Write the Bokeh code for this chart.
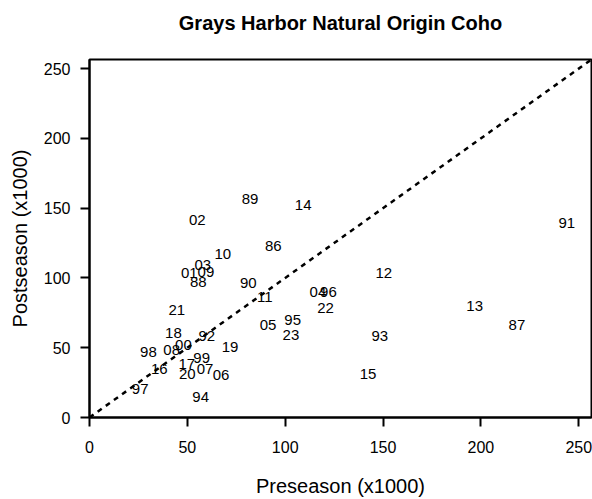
from bokeh.plotting import figure
from bokeh.models import Range1d, ColumnDataSource, Title
from bokeh.embed import file_html
from bokeh.resources import INLINE
from bokeh.core.properties import value

years = ["86", "87", "88", "89", "90", "91", "92", "93", "94", "95", "96", "97", "98", "99",
         "00", "01", "02", "03", "04", "05", "06", "07", "08", "09", "10", "11", "12", "13",
         "14", "15", "16", "17", "18", "19", "20", "21", "22", "23"]
preseason = [93.9, 218.4, 55.6, 82.0, 81.1, 243.9, 59.9, 148.3, 56.8, 103.8, 122.1, 25.9, 30.1, 57.3,
             48.0, 51.0, 55.1, 57.9, 116.7, 91.2, 67.2, 59.0, 42.0, 59.5, 68.1, 89.6, 150.4, 196.8,
             109.2, 142.3, 35.7, 49.7, 42.9, 71.8, 50.0, 44.6, 120.6, 102.9]
postseason = [122.9, 66.3, 96.8, 156.2, 96.1, 139.6, 58.3, 58.3, 14.8, 70.1, 90.1, 20.7, 46.9, 42.6,
              52.3, 103.2, 141.4, 109.1, 90.1, 66.3, 30.2, 34.5, 48.7, 104.1, 117.0, 86.1, 103.6, 79.7,
              152.6, 31.4, 35.0, 38.5, 60.6, 50.4, 30.9, 77.3, 78.5, 59.2]
tick_values = [0, 50, 100, 150, 200, 250]
axis_max = 256.5
title_text = "Grays Harbor Natural Origin Coho"

FONT = "Liberation Sans"

src = ColumnDataSource(dict(x=preseason, y=postseason, label=years))

p = figure(width=592, height=499, output_backend="svg", toolbar_location=None,
           x_range=Range1d(0, axis_max), y_range=Range1d(0, axis_max),
           min_border_left=89, min_border_right=1, min_border_top=59, min_border_bottom=80,
           x_axis_label="Preseason (x1000)", y_axis_label="Postseason (x1000)")

# blank spacer panel between the frame and the title
p.add_layout(Title(text=" ", text_font_size="1px", standoff=23), "above")

p.title.text = title_text
p.title.align = "center"
p.title.standoff = 0
p.title.text_font = FONT
p.title.text_font_size = "20px"
p.title.text_font_style = "bold"
p.title.text_color = "black"

p.grid.visible = False
p.outline_line_color = "black"
p.outline_line_width = 2
p.outline_line_alpha = 1.0
p.background_fill_color = "white"
p.border_fill_color = "white"

for ax in (p.xaxis[0], p.yaxis[0]):
    ax.ticker = tick_values
    ax.axis_line_width = 2
    ax.axis_line_color = "black"
    ax.major_tick_line_width = 2
    ax.major_tick_line_color = "black"
    ax.major_tick_out = 9
    ax.major_tick_in = 0
    ax.minor_tick_line_color = None
    ax.major_label_text_font = FONT
    ax.major_label_text_font_size = "16px"
    ax.major_label_text_color = "black"
    ax.axis_label_text_font = FONT
    ax.axis_label_text_font_size = "20px"
    ax.axis_label_text_font_style = "normal"
    ax.axis_label_text_color = "black"

p.xaxis[0].major_label_standoff = 14
p.xaxis[0].axis_label_standoff = 19
p.yaxis[0].major_label_standoff = 10
p.yaxis[0].axis_label_standoff = 10

p.line([0, axis_max + 5], [0, axis_max + 5], line_color="black", line_width=2.5, line_dash="5 5")

p.text(x="x", y="y", text="label", source=src, text_align="center", text_baseline="middle",
       text_font=value(FONT), text_font_size="15px", text_color="black")

open("out.html", "w").write(file_html(p, INLINE))
